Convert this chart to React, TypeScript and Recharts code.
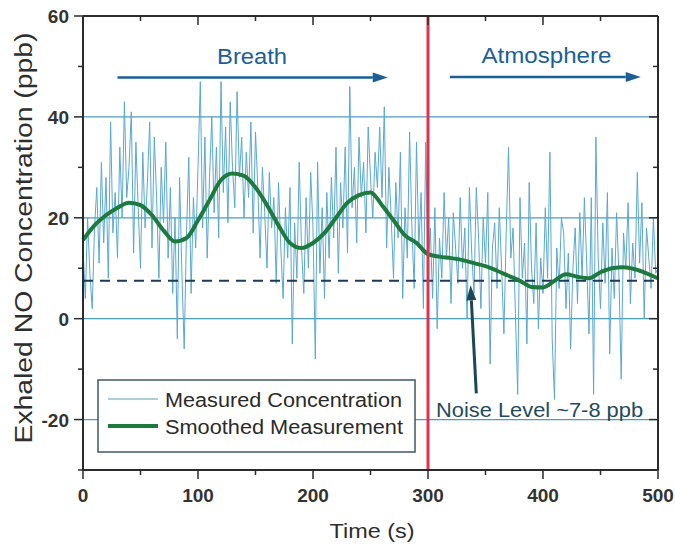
import React from "react";
import {
  Line,
  LineChart,
  ReferenceDot,
  ReferenceLine,
  XAxis,
  YAxis,
} from "recharts";

// measured signal, sampled every 2 s from 0 to 500 s
const sampleStep = 2;
const measuredValues = [
  14, 4, 20, 9, 2, 18, 26, 11, 31, 15,
  28, 8, 39, 17, 25, 12, 34, 20, 43, 24,
  30, 41, 13, 35, 22, 10, 33, 18, 27, 39,
  14, 36, 24, 8, 30, 19, 35, 12, 26, 5,
  20, -4, 28, 9, -6, 17, 32, 5, 24, 14,
  30, 47, 18, 36, 12, 28, 40, 21, 34, 16,
  47, 25, 38, 19, 43, 30, 22, 45, 28, 36,
  20, 33, 24, 39, 17, 37, 26, 12, 30, 21,
  10, 29, 18, 24, 7, 27, 14, 4, 22, 12,
  26, -5, 19, 8, 31, 14, 5, 24, 10, 29,
  18, -8, 31, 9, 22, 4, 25, 12, 28, 16,
  34, 9, 27, 18, 34, 13, 46, 22, 30, 15,
  36, 24, 31, 17, 38, 28, 20, 33, 26, 38,
  24, 42, 14, 30, 20, 8, 27, 16, 33, 4,
  22, 12, 37, 18, 6, 35, 14, 25, 2, 35,
  10, 18, 4, 22, -2, 16, 8, 25, 12, 20,
  3, 21, 14, 7, 24, 10, 18, 0, 26, 13,
  5, 26, 16, 2, 20, 11, 25, -9, 14, 19,
  6, 22, 10, -3, 17, 34, 12, 18, 1, -15,
  24, 8, 15, -5, 27, 10, 3, 19, -2, 12,
  5, 22, 8, 33, -4, -16, 14, 6, 20, 17,
  2, 13, -6, 10, 18, 3, 21, 8, 24, 11,
  -3, 24, -15, 36, 12, 2, 19, 7, 25, -7,
  14, 4, 21, 9, -12, 17, 10, 23, 3, 15,
  8, 29, 11, 23, 0, 18, 12, 6, 20, 9,
  10,
];

const smoothTimes = [
  0, 10, 20, 30, 40, 50, 60, 70, 80, 90, 100, 110, 120, 130, 140, 150, 160,
  170, 180, 190, 200, 210, 220, 230, 240, 250, 260, 270, 280, 290, 300, 310,
  320, 330, 340, 350, 360, 370, 380, 390, 400, 410, 420, 430, 440, 450, 460,
  470, 480, 490, 500,
];
const smoothValues = [
  15.6, 18.5, 20.5, 22, 23, 22.5, 20.5, 17.5, 15.3, 16, 19.5, 23.5, 27.5, 28.8,
  28.3, 26, 22.5, 18.5, 15, 14, 15, 17, 20, 23, 24.5, 25, 22.5, 19.5, 16.5, 15,
  12.8, 12.3, 12, 11.6, 11, 10.4, 9.5, 8.5, 7.5, 6.3, 6.2, 7.5, 8.8, 8.3, 8,
  9.2, 10, 10.2, 9.8, 9, 8,
];

const xTicks = [0, 50, 100, 150, 200, 250, 300, 350, 400, 450, 500];
const yTicks = [-30, -20, -10, 0, 10, 20, 30, 40, 50, 60];
const gridValues = [-20, 0, 20, 40];
const switchTime = 300;
const noiseLevel = 7.5;

const measuredData = measuredValues.map((v, i) => ({ t: i * sampleStep, v }));
const smoothData = smoothTimes.map((t, i) => ({ t, v: smoothValues[i] }));

const FONT = '"Liberation Sans", Arial, sans-serif';
const AXIS = "#2b2b2b";
const BLUE = "#1b5e98";

function BottomTick({ x, y, payload }: any) {
  const major = payload.value % 100 === 0;
  return (
    <g>
      <line x1={x} y1={y} x2={x} y2={y + (major ? 9 : 5)} stroke={AXIS} strokeWidth={1.5} />
      {major && (
        <text x={x} y={y + 32} textAnchor="middle" fontSize={19} fontWeight="bold" fill="#333" fontFamily={FONT}>
          {payload.value}
        </text>
      )}
    </g>
  );
}

function TopTick({ x, y, payload }: any) {
  const major = payload.value % 100 === 0;
  return <line x1={x} y1={y} x2={x} y2={y + (major ? 9 : 5)} stroke={AXIS} strokeWidth={1.5} />;
}

function LeftTick({ x, y, payload }: any) {
  const major = payload.value % 20 === 0;
  return (
    <g>
      <line x1={x} y1={y} x2={x - (major ? 9 : 5)} y2={y} stroke={AXIS} strokeWidth={1.5} />
      {major && (
        <text x={x - 14} y={y + 7} textAnchor="end" fontSize={19} fontWeight="bold" fill="#333" fontFamily={FONT}>
          {payload.value}
        </text>
      )}
    </g>
  );
}

function RightTick({ x, y, payload }: any) {
  const major = payload.value % 20 === 0;
  return <line x1={x} y1={y} x2={x - (major ? 9 : 5)} y2={y} stroke={AXIS} strokeWidth={1.5} />;
}

const arrowShape = (color: string, width: number) => (props: any) => {
  const { x1, y1, x2, y2 } = props;
  const ang = Math.atan2(y2 - y1, x2 - x1);
  const len = 15;
  const half = 5;
  const bx = x2 - len * Math.cos(ang);
  const by = y2 - len * Math.sin(ang);
  const px = -Math.sin(ang) * half;
  const py = Math.cos(ang) * half;
  return (
    <g>
      <line x1={x1} y1={y1} x2={bx} y2={by} stroke={color} strokeWidth={width} />
      <polygon points={`${x2},${y2} ${bx + px},${by + py} ${bx - px},${by - py}`} fill={color} />
    </g>
  );
};

const textShape = (text: string, color: string, size: number, length: number, anchor = "middle") => (props: any) => (
  <text
    x={props.cx}
    y={props.cy}
    textAnchor={anchor}
    fontSize={size}
    fill={color}
    fontFamily={FONT}
    textLength={length}
    lengthAdjust="spacingAndGlyphs"
  >
    {text}
  </text>
);

export default function App() {
  return (
    <div style={{ position: "absolute", left: 0, top: 0, width: 675, height: 545, background: "#fff" }}>
      <LineChart width={675} height={545} data={measuredData} margin={{ top: 15, right: 16, bottom: 45, left: 23 }}>
        <XAxis
          dataKey="t"
          type="number"
          domain={[0, 500]}
          ticks={xTicks}
          interval={0}
          height={30}
          tickSize={0}
          tickMargin={0}
          tickLine={false}
          tick={<BottomTick />}
          axisLine={{ stroke: AXIS, strokeWidth: 2 }}
        />
        <XAxis
          xAxisId="top"
          orientation="top"
          dataKey="t"
          type="number"
          domain={[0, 500]}
          ticks={xTicks}
          interval={0}
          height={1}
          tickSize={0}
          tickMargin={0}
          tickLine={false}
          tick={<TopTick />}
          axisLine={{ stroke: AXIS, strokeWidth: 2 }}
        />
        <YAxis
          type="number"
          domain={[-30, 60]}
          ticks={yTicks}
          interval={0}
          width={60}
          tickSize={0}
          tickMargin={0}
          tickLine={false}
          tick={<LeftTick />}
          axisLine={{ stroke: AXIS, strokeWidth: 2 }}
        />
        <YAxis
          yAxisId="right"
          orientation="right"
          type="number"
          domain={[-30, 60]}
          ticks={yTicks}
          interval={0}
          width={1}
          tickSize={0}
          tickMargin={0}
          tickLine={false}
          tick={<RightTick />}
          axisLine={{ stroke: AXIS, strokeWidth: 2 }}
        />

        {gridValues.map((g) => (
          <ReferenceLine key={g} y={g} stroke="#4d9cc4" strokeWidth={1.2} />
        ))}

        {/* invisible series so the mirrored top/right axes are drawn */}
        <Line
          xAxisId="top"
          yAxisId="right"
          data={smoothData}
          dataKey="v"
          stroke="none"
          dot={false}
          legendType="none"
          isAnimationActive={false}
        />
        <Line
          data={measuredData}
          dataKey="v"
          type="linear"
          stroke="#5aa8d0"
          strokeWidth={1}
          dot={false}
          isAnimationActive={false}
        />
        <ReferenceLine y={noiseLevel} stroke="#1c3a5c" strokeWidth={2} strokeDasharray="10 7" />
        <Line
          data={smoothData}
          dataKey="v"
          type="monotone"
          stroke="#1b7a3c"
          strokeWidth={4}
          dot={false}
          isAnimationActive={false}
        />
        <ReferenceLine x={switchTime} stroke="#e3304d" strokeWidth={3} />

        <ReferenceLine
          segment={[{ x: 30, y: 47.8 }, { x: 265, y: 47.8 }]}
          stroke={BLUE}
          shape={arrowShape(BLUE, 2.5)}
        />
        <ReferenceLine
          segment={[{ x: 319, y: 47.9 }, { x: 485, y: 47.9 }]}
          stroke={BLUE}
          shape={arrowShape(BLUE, 2.5)}
        />
        <ReferenceLine
          segment={[{ x: 342, y: -14.8 }, { x: 337, y: 6.6 }]}
          stroke="#1e4656"
          shape={arrowShape("#1e4656", 3)}
        />
        <ReferenceDot x={147} y={50.5} r={0} shape={textShape("Breath", BLUE, 22, 70)} />
        <ReferenceDot x={403} y={50.7} r={0} shape={textShape("Atmosphere", BLUE, 22, 130)} />
        <ReferenceDot
          x={307}
          y={-19.5}
          r={0}
          shape={textShape("Noise Level ~7-8 ppb", "#1e4b5e", 20, 207, "start")}
        />
      </LineChart>

      <svg
        width={675}
        height={545}
        style={{ position: "absolute", left: 0, top: 0, pointerEvents: "none" }}
      >
        <text
          transform="translate(32,238) rotate(-90)"
          textAnchor="middle"
          fontSize={23}
          fill="#2e2e2e"
          fontFamily={FONT}
          textLength={411}
          lengthAdjust="spacingAndGlyphs"
        >
          Exhaled NO Concentration (ppb)
        </text>
        <text
          x={372}
          y={538}
          textAnchor="middle"
          fontSize={21}
          fill="#2e2e2e"
          fontFamily={FONT}
          textLength={85}
          lengthAdjust="spacingAndGlyphs"
        >
          Time (s)
        </text>

        <rect x={98} y={380} width={317} height={72} fill="#fff" stroke="#3d5a60" strokeWidth={1.5} />
        <line x1={108} y1={399} x2={158} y2={399} stroke="#8fbcd0" strokeWidth={1.5} />
        <line x1={108} y1={426} x2={158} y2={426} stroke="#1b7a3c" strokeWidth={4} />
        <text x={165} y={407} fontSize={20} fill="#2a2a2a" fontFamily={FONT} textLength={237} lengthAdjust="spacingAndGlyphs">
          Measured Concentration
        </text>
        <text x={165} y={434} fontSize={20} fill="#2a2a2a" fontFamily={FONT} textLength={238} lengthAdjust="spacingAndGlyphs">
          Smoothed Measurement
        </text>
      </svg>
    </div>
  );
}
